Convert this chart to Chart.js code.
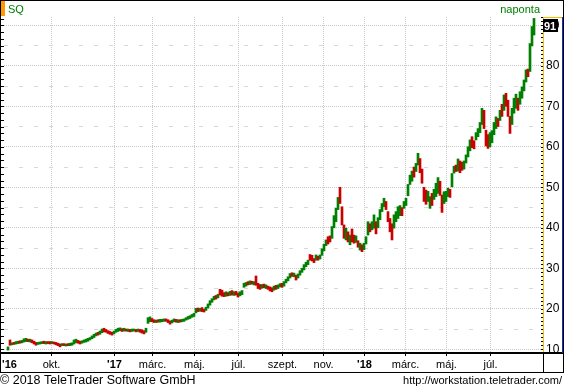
<!DOCTYPE html>
<html><head><meta charset="utf-8">
<script src="https://cdn.jsdelivr.net/npm/chart.js@4.4.1/dist/chart.umd.min.js"></script>
<style>html,body{margin:0;padding:0;background:#fff;overflow:hidden}canvas{display:block}</style>
</head><body>
<canvas id="c" width="564" height="390"></canvas>
<script>
// ---- data (two trading days per bar) ----
const symbol = 'SQ';
const period = 'naponta';
const lastPrice = 91;
const lo = [
 9.8,11.0,11.1,11.2,11.3,11.4,11.5,11.6,11.8,11.9,
 11.9,11.8,11.6,11.3,11.0,11.2,11.3,11.4,11.4,11.3,
 11.4,11.3,11.4,11.3,11.1,10.9,10.6,10.9,10.9,10.8,
 10.9,10.9,11.0,11.3,11.6,11.5,11.3,11.5,11.7,11.8,
 12.0,12.3,12.6,12.9,13.3,13.5,13.7,14.1,14.3,14.2,
 13.9,13.7,13.5,13.8,14.2,14.4,14.6,14.4,14.5,14.5,
 14.4,14.3,14.4,14.5,14.3,14.4,14.2,14.0,13.8,14.2,
 16.4,16.8,16.8,16.6,16.6,16.7,16.7,16.8,16.9,16.9,
 16.6,16.2,16.5,16.8,16.7,16.6,16.7,16.8,16.9,17.2,
 17.4,17.6,17.9,18.1,19.0,19.3,19.4,19.3,19.2,19.6,
 20.2,20.9,21.6,22.2,22.4,22.7,23.4,23.1,23.0,23.1,
 23.2,23.3,23.4,23.3,23.4,22.9,23.2,23.5,25.3,25.6,
 25.9,26.0,26.1,25.9,25.8,25.0,24.8,25.1,25.2,25.0,
 24.8,24.4,24.2,24.6,24.8,25.0,25.4,25.3,25.6,26.4,
 26.9,27.6,28.0,27.9,27.1,27.6,28.3,29.0,29.6,30.4,
 30.9,32.0,31.8,31.4,32.0,32.0,32.3,33.2,34.3,35.6,
 36.0,36.5,37.4,40.0,41.5,44.5,46.0,40.7,37.4,37.0,
 36.5,35.8,36.5,36.2,36.4,35.2,34.5,34.1,34.6,36.0,
 38.2,39.0,39.5,39.9,38.5,40.0,42.0,44.0,45.2,44.5,
 41.5,39.0,37.0,39.9,41.5,42.3,43.0,43.0,44.8,45.5,
 47.9,50.7,51.5,52.5,53.9,55.5,53.6,51.0,46.5,45.8,
 46.5,44.8,45.5,47.0,47.7,48.5,48.0,43.8,46.0,46.5,
 47.7,47.5,50.1,53.5,53.9,54.0,53.6,54.2,54.5,56.0,
 57.5,59.0,59.8,59.5,61.7,62.5,63.5,65.5,64.5,60.2,
 59.6,60.0,61.0,63.0,64.5,65.0,66.5,67.5,69.0,70.0,
 67.5,63.3,65.5,68.3,69.5,69.0,70.5,72.0,73.8,76.0,
 77.3,78.6,84.9,87.6
];
const hi = [
 10.6,12.3,11.6,11.7,11.9,12.0,12.1,12.2,12.6,12.7,
 12.5,12.5,12.3,12.0,11.7,11.7,11.8,11.9,12.0,11.9,
 11.9,11.9,11.9,11.8,11.7,11.5,11.3,11.4,11.4,11.3,
 11.4,11.5,11.6,12.3,12.5,12.2,12.0,12.1,12.3,12.5,
 12.7,12.9,13.3,13.7,14.0,14.2,14.5,15.0,15.2,14.9,
 14.6,14.4,14.2,14.5,14.9,15.2,15.3,15.1,15.2,15.0,
 15.0,14.9,15.0,15.0,14.9,15.0,14.9,14.8,14.6,15.2,
 17.8,18.0,17.6,17.3,17.2,17.3,17.4,17.4,17.5,17.5,
 17.3,17.0,17.2,17.5,17.4,17.3,17.3,17.4,17.5,17.8,
 18.1,18.3,18.6,18.9,20.1,20.2,20.1,20.3,19.9,20.4,
 21.2,22.0,22.5,23.1,23.3,23.6,24.8,24.6,24.0,24.2,
 24.0,24.3,24.5,24.2,24.3,23.9,24.2,24.5,26.3,26.5,
 26.7,26.9,26.8,26.7,28.1,26.3,26.0,26.0,26.1,25.9,
 25.6,25.4,25.2,25.6,25.8,25.9,26.2,26.3,26.7,27.3,
 27.9,28.7,28.9,28.8,28.3,28.6,29.4,30.0,30.9,31.5,
 32.0,33.4,33.2,32.4,33.3,33.0,33.3,34.8,35.9,37.0,
 37.8,38.0,40.3,43.0,44.8,47.5,50.0,45.2,40.7,39.9,
 39.0,38.2,39.7,38.2,38.0,36.8,36.2,35.8,36.2,37.8,
 41.5,41.0,41.5,43.2,41.5,42.5,44.5,46.0,47.3,46.5,
 44.0,42.3,41.0,43.2,44.0,45.2,45.5,45.0,46.5,47.3,
 50.7,53.0,54.0,55.0,55.9,58.4,57.1,54.5,50.0,49.3,
 49.0,47.7,48.5,49.5,51.0,52.4,51.5,48.1,48.9,49.0,
 49.8,49.5,53.4,55.2,55.5,57.0,56.5,56.2,56.5,58.0,
 60.0,61.7,62.5,61.5,63.5,64.5,66.0,69.5,69.0,64.1,
 63.0,63.5,64.0,66.0,67.4,67.0,69.0,70.5,72.8,73.2,
 71.5,67.5,69.5,72.0,73.0,72.0,73.6,74.8,76.5,79.0,
 79.2,85.5,89.7,91.7
];
// g = rising bar (green), r = falling bar (red)
const dir =
 'grgrggrggg'+'rgrrrgggrg'+'rrgrrrrgrg'+'rggggrrggg'+'gggggrggrr'+
 'rrrggggrgr'+'grggrgrrrg'+'ggrrgrgggr'+'rrggrgrggg'+'gggggrgrrg'+
 'ggggrgrrrg'+'rgrgrrgggg'+'rgrgrrrgrg'+'rrrgrggrgg'+'ggrgrggggg'+
 'grrrgrgggg'+'rrggggrrrg'+'rgrrgrgrgg'+'grggrggggr'+'rrrggggrgg'+
 'gggrggrrrr'+'ggrgggrrgg'+'grggrgrrgg'+'ggrrggggrr'+'rggggrgrgr'+
 'rrgggrgggg'+'rggg';
const xTickPos = [2, 44, 107, 145, 187, 231, 275, 316, 357, 398, 439, 483];
const xTickLabels = ["'16","okt.","'17","márc.","máj.","júl.","szept.","nov.","'18","márc.","máj.","júl."];
const yTicks = [10,15,20,25,30,35,40,45,50,55,60,65,70,75,80,85,90];
const footerLeft = '© 2018 TeleTrader Software GmbH';
const footerRight = 'http://workstation.teletrader.com/';

const GREEN = '#008000', RED = '#cc0000';
const bars = lo.map((l, k) => ({x: 2 * k + 0.5, y: [l, hi[k]]}));
const colors = lo.map((_, k) => dir[k] === 'g' ? GREEN : RED);

const decor = {
  id: 'decor',
  afterDraw(chart) {
    const c = chart.ctx, a = chart.chartArea, ys = chart.scales.y;
    c.save();
    // title row
    c.fillStyle = '#ff9900'; c.fillRect(0, 0, 5, 16);
    c.fillStyle = GREEN; c.font = '11px "Liberation Sans"'; c.textBaseline = 'alphabetic';
    c.textAlign = 'left'; c.fillText(symbol, 8, 13);
    c.textAlign = 'right'; c.fillText(period, 540, 13);
    // frame lines
    c.fillStyle = '#000';
    c.fillRect(0, 0, 564, 1);
    c.fillRect(0, 0, 1, 373);
    c.fillRect(0, a.bottom, 563, 2);
    c.fillRect(0, 372, 564, 1);
    c.fillRect(543, a.bottom, 1, 21);
    c.fillRect(563, 0, 1, 373);
    // left axis ticks
    for (let v = 10; v <= 92; v += 5 / 3) {
      const y = Math.round(ys.getPixelForValue(v));
      if (y >= a.top && y <= a.bottom) c.fillRect(1, y, 3, 1);
    }
    // right axis minor ticks
    for (let v = 10; v <= 92; v += 1) {
      const y = Math.round(ys.getPixelForValue(v));
      c.fillRect(a.right, y, 2, 1);
    }
    // right axis box lines
    c.fillStyle = '#f0c000'; c.fillRect(543, a.top, 1, a.bottom - a.top);
    c.fillRect(543, a.top, 20, 1);
    c.fillStyle = '#1030c0'; c.fillRect(562, a.top, 1, a.bottom - a.top + 1);
    // last price marker
    const yl = Math.max(a.top + 2, ys.getPixelForValue(lastPrice) - 6);
    c.fillStyle = '#000'; c.fillRect(543, yl, 15, 13);
    c.fillStyle = '#fff'; c.font = 'bold 11px "Liberation Sans"'; c.textAlign = 'left';
    c.fillText(String(lastPrice), 544, yl + 10.5);
    // footer
    c.fillStyle = '#000';
    c.font = '12.5px "Liberation Sans"'; c.textAlign = 'left'; c.fillText(footerLeft, 0, 384);
    c.font = '11px "Liberation Sans"'; c.textAlign = 'right'; c.fillText(footerRight, 562, 384);
    c.restore();
  }
};

new Chart(document.getElementById('c').getContext('2d'), {
  type: 'bar',
  data: { datasets: [{ data: bars, backgroundColor: colors, borderWidth: 0, barThickness: 2, grouped: false }] },
  options: {
    responsive: false, animation: false, events: [],
    layout: { padding: { top: 17, left: 4, right: 0, bottom: 0 } },
    plugins: { legend: { display: false }, tooltip: { enabled: false }, title: { display: false } },
    scales: {
      x: {
        type: 'linear', min: -3.5, max: 533.5, offset: false, position: 'bottom',
        afterBuildTicks: s => { s.ticks = xTickPos.map(v => ({ value: v })); },
        afterFit: s => { s.height = 38; },
        grid: { offset: false, color: c => c.index === 0 ? 'rgba(0,0,0,0)' : '#c8c8c8', lineWidth: 1,
                drawTicks: true, tickLength: 4, tickColor: c => c.index === 0 ? 'rgba(0,0,0,0)' : '#000' },
        border: { display: false, dash: [1, 1] },
        ticks: { autoSkip: false, maxRotation: 0, minRotation: 0, padding: 2, color: '#000',
                 font: c => ({ family: 'Liberation Sans', size: 11,
                               weight: (xTickLabels[c.index] || '').startsWith("'") ? 'bold' : 'normal' }),
                 callback: (v, i) => xTickLabels[i] }
      },
      y: {
        type: 'linear', position: 'right', min: 9.33, max: 92.05,
        afterBuildTicks: s => { s.ticks = yTicks.map(v => ({ value: v })); },
        afterFit: s => { s.width = 23; },
        grid: { color: c => (c.tick && c.tick.value % 10 === 0) ? '#c8c8c8' : '#d8d8d8', lineWidth: 1, drawTicks: false },
        border: { display: false, dash: c => (c.tick && c.tick.value % 10 === 0) ? [1, 1] : [4, 11] },
        ticks: { padding: 5, color: '#000', font: { family: 'Liberation Sans', size: 12 },
                 callback: v => (v % 10 === 0 ? String(v) : '') }
      }
    }
  },
  plugins: [decor]
});
</script>
</body></html>
